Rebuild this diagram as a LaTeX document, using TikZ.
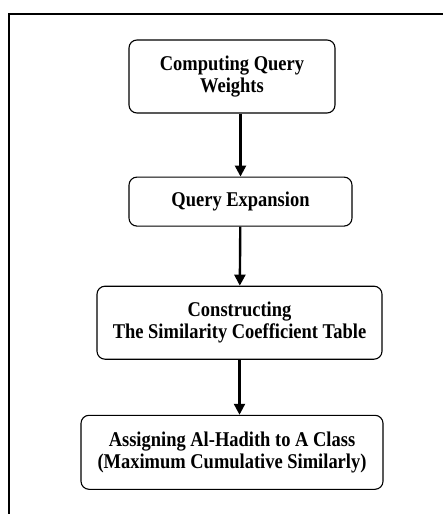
\documentclass[tikz,border=0pt]{standalone}
\usepackage{fontspec}
\newfontfamily\boxfont{Liberation Serif Bold}[FakeStretch=0.88]
\usetikzlibrary{positioning, arrows.meta}

\begin{document}
\begin{tikzpicture}[node distance=60pt, thick]
    % Define block styles
    \tikzstyle{block} = [rectangle, draw, line width=1.1pt, rounded corners=8pt, align=center, inner sep=0pt,
                         font=\boxfont\fontsize{21}{22}\selectfont]
    \tikzstyle{flow} = [line width=2.4pt, -{Triangle[length=11pt, width=11pt]}]

    % Page and frame
    \useasboundingbox (0,0) rectangle (443pt,-514pt);
    \draw [line width=2pt] (9pt,-514pt) -- (9pt,-14pt) -- (443pt,-14pt);

    % Place main nodes
    \node [block, minimum width=206pt, minimum height=73pt] (weights) at (232pt,-76.5pt) {Computing Query\\Weights};
    \node [block, minimum width=223pt, minimum height=49pt, below=63pt of weights, xshift=8.5pt] (expand) {Query Expansion};
    \node [block, minimum width=285pt, minimum height=73pt, below=59pt of expand, xshift=-1pt] (table) {Constructing\\The Similarity Coefficient Table};
    \node [block, minimum width=302pt, minimum height=74pt, below=55pt of table, xshift=-7.5pt] (assign) {Assigning Al-Hadith to A Class\\(Maximum Cumulative Similarly)};

    % Draw connections as arrows
    \draw [flow] (weights.south -| expand) -- (expand.north);
    \draw [flow] (expand) -- (table);
    \draw [flow] (table.south) -- (assign.north -| table);
\end{tikzpicture}
\end{document}
